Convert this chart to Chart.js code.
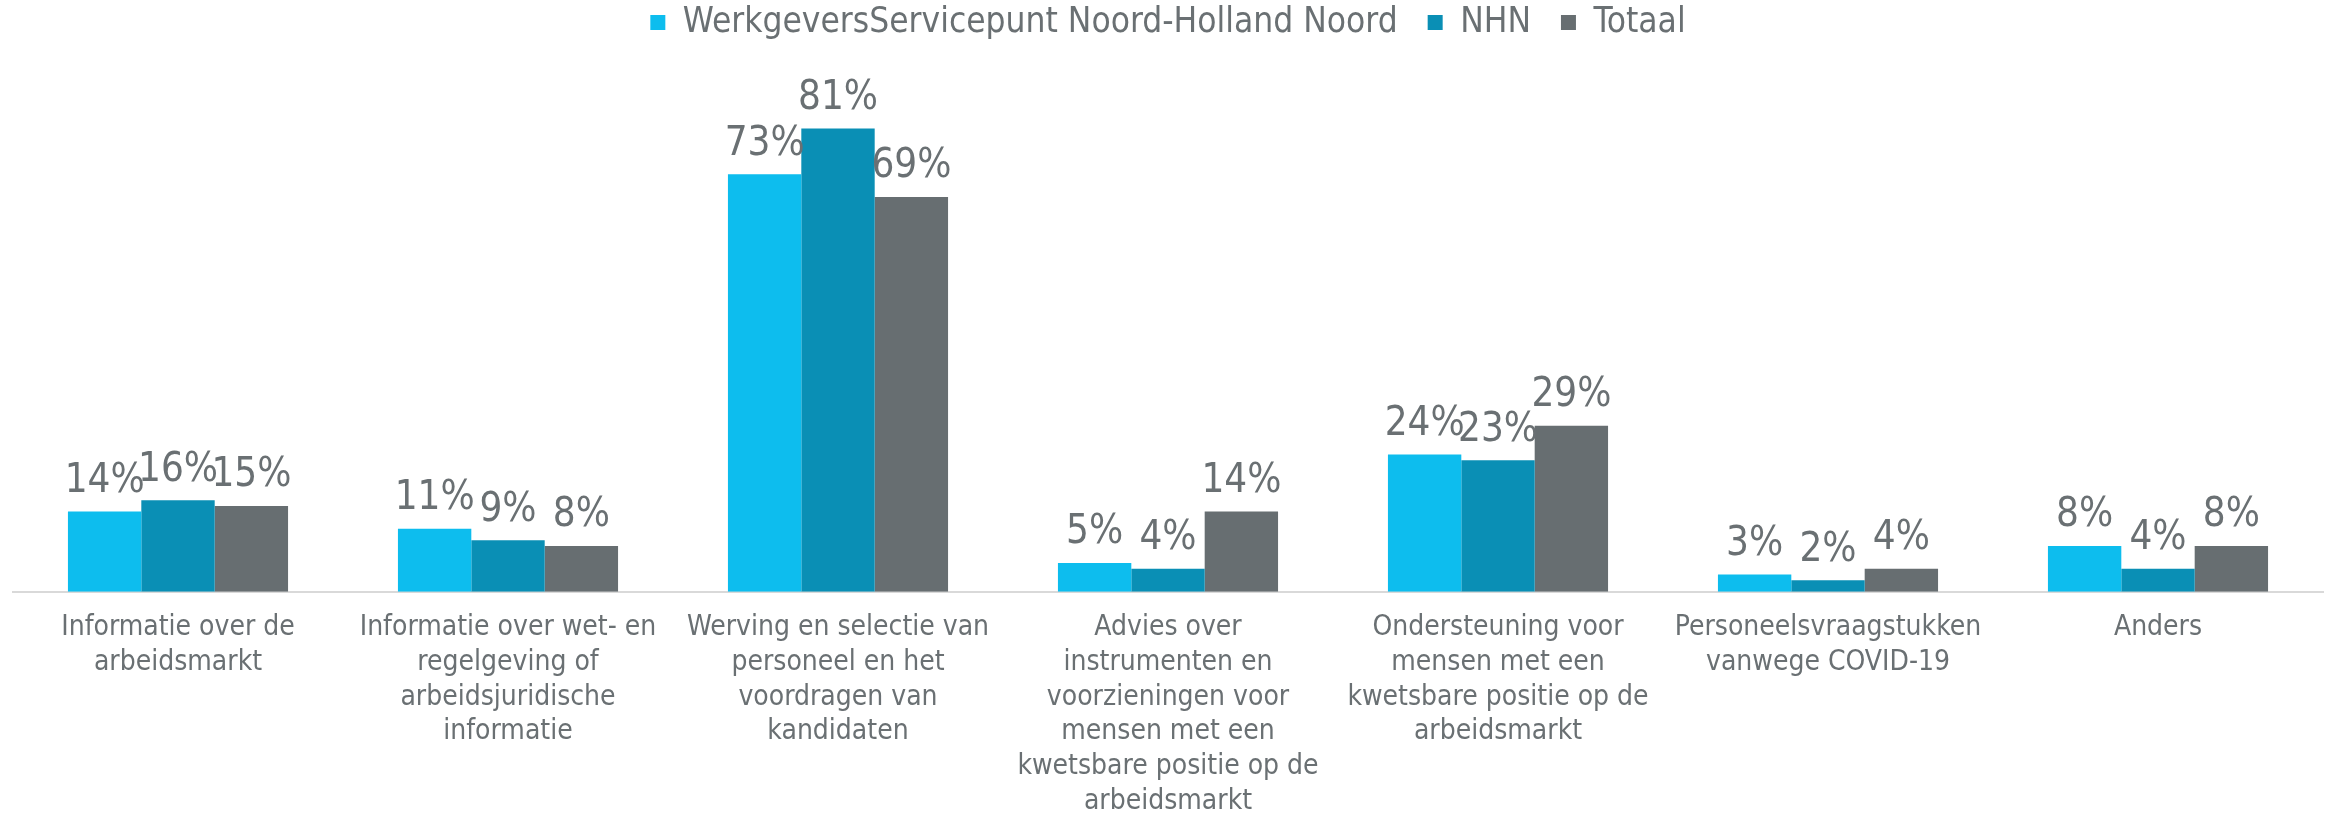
<!DOCTYPE html>
<html>
<head>
<meta charset="utf-8">
<script src="https://cdn.jsdelivr.net/npm/chart.js@4"></script>
<style>
  html, body { margin: 0; padding: 0; background: #fff; }
  #wrap { width: 2328px; height: 814px; }
</style>
</head>
<body>
<div id="wrap"><canvas id="chart" width="2328" height="814"></canvas></div>
<script>
const categories = [
  ["Informatie over de", "arbeidsmarkt"],
  ["Informatie over wet- en", "regelgeving of", "arbeidsjuridische", "informatie"],
  ["Werving en selectie van", "personeel en het", "voordragen van", "kandidaten"],
  ["Advies over", "instrumenten en", "voorzieningen voor", "mensen met een", "kwetsbare positie op de", "arbeidsmarkt"],
  ["Ondersteuning voor", "mensen met een", "kwetsbare positie op de", "arbeidsmarkt"],
  ["Personeelsvraagstukken", "vanwege COVID-19"],
  ["Anders"]
];
const seriesNames = ["WerkgeversServicepunt Noord-Holland Noord", "NHN", "Totaal"];
const wspValues = [14, 11, 73, 5, 24, 3, 8];
const nhnValues = [16, 9, 81, 4, 23, 2, 4];
const totaalValues = [15, 8, 69, 14, 29, 4, 8];

const colors = ["#0dbdee", "#0a8fb5", "#676e71"];
const textColor = "#6a7073";
const fontFamily = "'DejaVu Sans Condensed', sans-serif";

// draws the percentage above each bar
const valueLabels = {
  id: "valueLabels",
  afterDatasetsDraw(chart) {
    const ctx = chart.ctx;
    ctx.save();
    ctx.fillStyle = textColor;
    ctx.font = "40px " + fontFamily;
    ctx.textAlign = "center";
    ctx.textBaseline = "bottom";
    chart.data.datasets.forEach((ds, i) => {
      const meta = chart.getDatasetMeta(i);
      meta.data.forEach((bar, j) => {
        ctx.fillText(ds.data[j] + "%", bar.x, bar.y - 10);
      });
    });
    ctx.restore();
  }
};

// make the legend box taller so the plot starts lower
const legendHeight = {
  id: "legendHeight",
  beforeInit(chart) {
    const origFit = chart.legend.fit;
    chart.legend.fit = function () {
      origFit.call(this);
      this.height = 102;
    };
  }
};

const ctx = document.getElementById("chart").getContext("2d");
const myChart = new Chart(ctx, {
  type: "bar",
  data: {
    labels: categories,
    datasets: [
      { label: seriesNames[0], data: wspValues, backgroundColor: colors[0] },
      { label: seriesNames[1], data: nhnValues, backgroundColor: colors[1] },
      { label: seriesNames[2], data: totaalValues, backgroundColor: colors[2] }
    ]
  },
  options: {
    responsive: false,
    animation: false,
    layout: { padding: { left: 13, right: 5, top: -25, bottom: -16 } },
    datasets: { bar: { categoryPercentage: 0.667, barPercentage: 1.0 } },
    plugins: {
      legend: {
        position: "top",
        labels: {
          color: textColor,
          font: { family: fontFamily, size: 35 },
          boxWidth: 15,
          boxHeight: 15,
          padding: 30
        }
      },
      tooltip: { enabled: false }
    },
    scales: {
      x: {
        grid: { display: false },
        border: { color: "#d9d9d9", width: 2 },
        ticks: {
          color: textColor,
          font: { family: fontFamily, size: 28, lineHeight: 1.24 },
          padding: 11,
          maxRotation: 0,
          autoSkip: false
        }
      },
      y: {
        display: false,
        min: 0,
        max: 90
      }
    }
  },
  plugins: [valueLabels, legendHeight]
});
</script>
</body>
</html>
